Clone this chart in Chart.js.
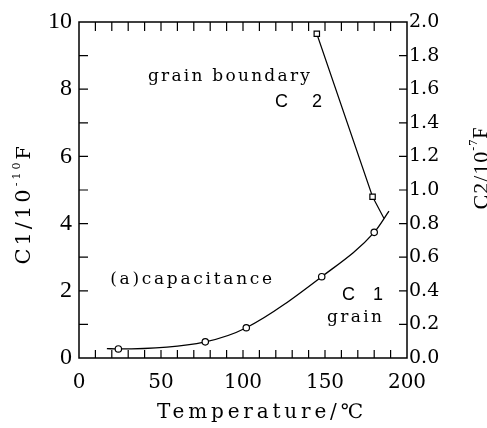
<!DOCTYPE html>
<html lang="en">
<head>
    <meta charset="UTF-8">
    <title>Capacitance vs Temperature</title>
    <style>
        body {
            margin: 0;
            background-color: #ffffff;
        }
        #wrap {
            width: 487px;
            height: 428px;
        }
    </style>
    <script src="https://cdn.jsdelivr.net/npm/chart.js"></script>
</head>
<body>
    <div id="wrap">
        <canvas id="capChart" width="487" height="428"></canvas>
    </div>

    <script>
        // grain (C1, left axis) - measured points
        const c1Temps = [24, 77, 102, 148, 180];
        const c1Values = [0.27, 0.48, 0.9, 2.42, 3.74];
        // the drawn C1 curve runs a little past the first and last points
        const c1CurveTemps = [17, 24, 77, 102, 148, 180, 189];
        const c1CurveValues = [0.28, 0.27, 0.48, 0.9, 2.42, 3.74, 4.37];

        // grain boundary (C2, right axis)
        const c2Temps = [145, 179];
        const c2Values = [1.93, 0.96];
        const c2LineTemps = [145, 179, 186];
        const c2LineValues = [1.93, 0.96, 0.83];

        const xTicks = [0, 50, 100, 150, 200];
        const y1Ticks = [0, 2, 4, 6, 8, 10];
        const y2Ticks = [0, 0.2, 0.4, 0.6, 0.8, 1.0, 1.2, 1.4, 1.6, 1.8, 2.0];

        const toPoints = (xs, ys) => xs.map((x, i) => ({ x: x, y: ys[i] }));

        // spread text out so it covers a given width (typewriter look)
        function spacingFor(ctx, txt, width) {
            ctx.letterSpacing = '0px';
            const w = ctx.measureText(txt).width;
            return Math.max(0, (width - w) / (txt.length - 1));
        }

        // frame, inward ticks, labels and axis titles
        const decorations = {
            id: 'decorations',
            afterDraw(chart) {
                const ctx = chart.ctx;
                const a = chart.chartArea;
                const sx = chart.scales.x, sy = chart.scales.y, sy2 = chart.scales.y2;
                ctx.save();
                ctx.strokeStyle = '#000';
                ctx.fillStyle = '#000';
                ctx.lineWidth = 1.5;
                ctx.strokeRect(a.left, a.top, a.right - a.left, a.bottom - a.top);

                ctx.lineWidth = 1.2;
                ctx.beginPath();
                for (let t = 10; t < 200; t += 10) {
                    const px = sx.getPixelForValue(t);
                    ctx.moveTo(px, a.bottom); ctx.lineTo(px, a.bottom - 8);
                    ctx.moveTo(px, a.top); ctx.lineTo(px, a.top + 9);
                }
                for (let v = 1; v < 10; v++) {
                    const py = sy.getPixelForValue(v);
                    ctx.moveTo(a.left, py); ctx.lineTo(a.left + 9, py);
                }
                for (let i = 1; i < y2Ticks.length - 1; i++) {
                    const py = sy2.getPixelForValue(y2Ticks[i]);
                    ctx.moveTo(a.right, py); ctx.lineTo(a.right - 8, py);
                }
                ctx.stroke();

                // text placed with the data scales
                ctx.textBaseline = 'middle';
                ctx.textAlign = 'left';
                const put = (txt, x, y, font, width) => {
                    ctx.font = font;
                    ctx.letterSpacing = spacingFor(ctx, txt, width) + 'px';
                    ctx.fillText(txt, sx.getPixelForValue(x), sy.getPixelForValue(y));
                };
                put('grain boundary', 42, 8.38, '17px "DejaVu Serif"', 162);
                put('C 2', 119.5, 7.62, '18px "Liberation Sans"', 47);
                put('(a)capacitance', 19, 2.33, '17px "DejaVu Serif"', 162);
                put('C 1', 160.4, 1.87, '18px "Liberation Sans"', 41);
                put('grain', 151.2, 1.2, '17px "DejaVu Serif"', 55);

                // x title
                ctx.font = '20px "DejaVu Serif"';
                const tTitle = 'Temperature/\u2103';
                ctx.letterSpacing = spacingFor(ctx, tTitle, 206) + 'px';
                ctx.fillText(tTitle, 157, 413);

                // rotated titles with superscripts
                const rotTitle = (cx, cy, parts, spacing) => {
                    ctx.save();
                    ctx.translate(cx, cy);
                    ctx.rotate(-Math.PI / 2);
                    ctx.textAlign = 'left';
                    ctx.letterSpacing = spacing + 'px';
                    let w = 0;
                    parts.forEach(p => { ctx.font = p.font; w += ctx.measureText(p.t).width; });
                    let x = -w / 2;
                    parts.forEach(p => {
                        ctx.font = p.font;
                        ctx.fillText(p.t, x, p.dy || 0);
                        x += ctx.measureText(p.t).width;
                    });
                    ctx.restore();
                };
                rotTitle(25, 204, [
                    { t: 'C1/10', font: '21px "DejaVu Serif"' },
                    { t: '-10', font: '11px "DejaVu Serif"', dy: -8 },
                    { t: 'F', font: '19px "DejaVu Serif"' }
                ], 3);
                rotTitle(482, 168, [
                    { t: 'C2/10', font: '22px "Liberation Serif"' },
                    { t: '-7', font: '12px "Liberation Serif"', dy: -8 },
                    { t: 'F', font: '20px "Liberation Serif"' }
                ], 1);
                ctx.restore();
            }
        };

        const ctx = document.getElementById('capChart').getContext('2d');
        const capChart = new Chart(ctx, {
            type: 'scatter',
            data: {
                datasets: [
                    {
                        label: 'C1 points',
                        data: toPoints(c1Temps, c1Values),
                        yAxisID: 'y',
                        pointStyle: 'circle',
                        pointRadius: 3.2,
                        pointBackgroundColor: '#ffffff',
                        pointBorderColor: '#000000',
                        pointBorderWidth: 1.2
                    },
                    {
                        label: 'C2 points',
                        data: toPoints(c2Temps, c2Values),
                        yAxisID: 'y2',
                        pointStyle: 'rect',
                        pointRadius: 3.8,
                        pointBackgroundColor: '#ffffff',
                        pointBorderColor: '#000000',
                        pointBorderWidth: 1.2
                    },
                    {
                        label: 'C1 curve',
                        data: toPoints(c1CurveTemps, c1CurveValues),
                        yAxisID: 'y',
                        showLine: true,
                        pointRadius: 0,
                        cubicInterpolationMode: 'monotone',
                        borderColor: '#000000',
                        borderWidth: 1.3
                    },
                    {
                        label: 'C2 line',
                        data: toPoints(c2LineTemps, c2LineValues),
                        yAxisID: 'y2',
                        showLine: true,
                        pointRadius: 0,
                        borderColor: '#000000',
                        borderWidth: 1.2
                    }
                ]
            },
            options: {
                responsive: false,
                animation: false,
                layout: { padding: { top: 22 } },
                plugins: {
                    legend: { display: false },
                    tooltip: { enabled: false }
                },
                scales: {
                    x: {
                        type: 'linear',
                        position: 'bottom',
                        min: 0,
                        max: 200,
                        afterBuildTicks: s => { s.ticks = xTicks.map(v => ({ value: v })); },
                        afterFit: s => { s.height = 70; },
                        ticks: {
                            color: '#000',
                            font: { family: 'DejaVu Serif', size: 20 },
                            padding: 13,
                            maxRotation: 0
                        },
                        grid: { display: false, drawTicks: false },
                        border: { display: false }
                    },
                    y: {
                        position: 'left',
                        min: 0,
                        max: 10,
                        afterBuildTicks: s => { s.ticks = y1Ticks.map(v => ({ value: v })); },
                        afterFit: s => { s.width = 79; },
                        ticks: {
                            color: '#000',
                            font: { family: 'Liberation Serif', size: 24 },
                            padding: 7
                        },
                        grid: { display: false, drawTicks: false },
                        border: { display: false }
                    },
                    y2: {
                        position: 'right',
                        min: 0,
                        max: 2,
                        afterBuildTicks: s => { s.ticks = y2Ticks.map(v => ({ value: v })); },
                        afterFit: s => { s.width = 80; },
                        ticks: {
                            color: '#000',
                            font: { family: 'DejaVu Serif', size: 19 },
                            padding: 2,
                            callback: v => v.toFixed(1)
                        },
                        grid: { display: false, drawTicks: false },
                        border: { display: false }
                    }
                }
            },
            plugins: [decorations]
        });
    </script>
</body>
</html>
